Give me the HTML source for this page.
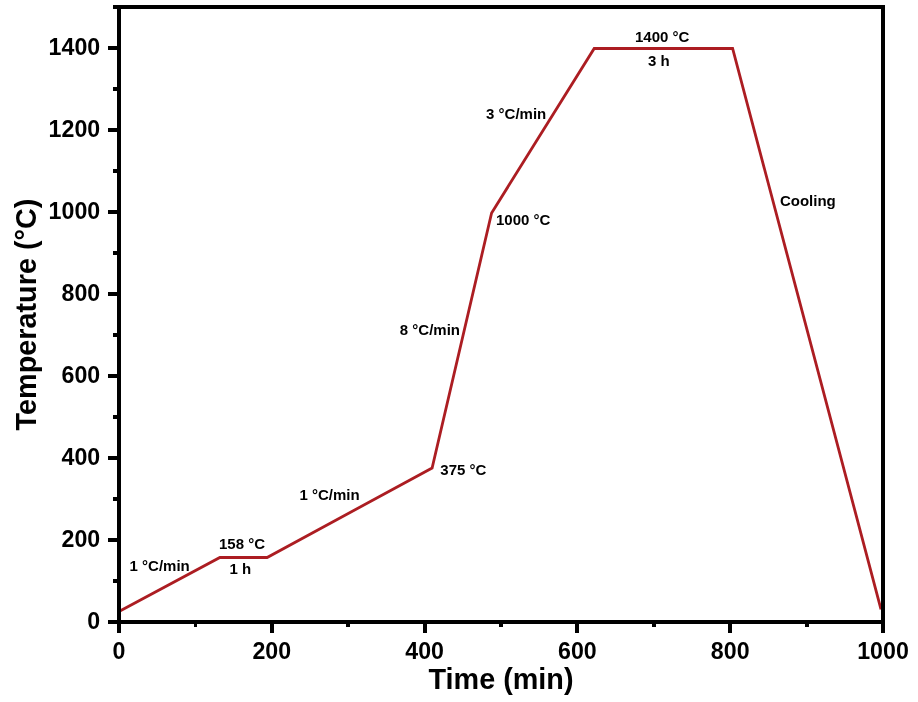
<!DOCTYPE html>
<html><head><meta charset="utf-8"><style>
html,body{margin:0;padding:0;background:#fff;width:918px;height:702px;overflow:hidden}
svg{display:block}
text{-webkit-font-smoothing:antialiased}
.t{filter:saturate(0)}
</style></head><body>
<svg width="918" height="702" viewBox="0 0 918 702">
<rect width="918" height="702" fill="#fff"/>
<polyline points="119.00,611.50 219.90,557.50 267.10,557.50 432.10,468.00 491.60,213.00 594.20,48.50 732.60,48.50 881.00,609.30" fill="none" stroke="#ac1d22" stroke-width="2.8" stroke-linejoin="miter" stroke-miterlimit="10"/>
<g fill="#ac1d22" shape-rendering="crispEdges"><rect x="220" y="556" width="47" height="3"/><rect x="594" y="47" width="139" height="3"/></g>
<g fill="#000" shape-rendering="crispEdges"><rect x="113" y="5" width="772" height="4"/><rect x="117" y="5" width="4" height="628"/><rect x="881" y="5" width="4" height="628"/><rect x="108" y="620" width="777" height="4"/><rect x="108" y="620" width="9" height="4"/><rect x="113" y="579" width="4" height="4"/><rect x="108" y="538" width="9" height="4"/><rect x="113" y="497" width="4" height="4"/><rect x="108" y="456" width="9" height="4"/><rect x="113" y="415" width="4" height="4"/><rect x="108" y="374" width="9" height="4"/><rect x="113" y="333" width="4" height="4"/><rect x="108" y="292" width="9" height="4"/><rect x="113" y="251" width="4" height="4"/><rect x="108" y="210" width="9" height="4"/><rect x="113" y="169" width="4" height="4"/><rect x="108" y="128" width="9" height="4"/><rect x="113" y="87" width="4" height="4"/><rect x="108" y="46" width="9" height="4"/><rect x="117" y="624" width="4" height="9"/><rect x="194" y="624" width="3" height="3"/><rect x="270" y="624" width="4" height="9"/><rect x="346" y="624" width="4" height="3"/><rect x="423" y="624" width="4" height="9"/><rect x="499" y="624" width="4" height="3"/><rect x="575" y="624" width="4" height="9"/><rect x="652" y="624" width="4" height="3"/><rect x="728" y="624" width="4" height="9"/><rect x="805" y="624" width="4" height="3"/><rect x="881" y="624" width="4" height="9"/></g>
<g class="t" font-family='"Liberation Sans", sans-serif' font-weight="bold" font-size="23.2" fill="#000"><text x="100.2" y="629.0" text-anchor="end">0</text><text x="100.2" y="547.0" text-anchor="end">200</text><text x="100.2" y="465.0" text-anchor="end">400</text><text x="100.2" y="383.0" text-anchor="end">600</text><text x="100.2" y="301.0" text-anchor="end">800</text><text x="100.2" y="219.0" text-anchor="end">1000</text><text x="100.2" y="137.0" text-anchor="end">1200</text><text x="100.2" y="55.0" text-anchor="end">1400</text><text x="119.0" y="658.8" text-anchor="middle">0</text><text x="271.8" y="658.8" text-anchor="middle">200</text><text x="424.6" y="658.8" text-anchor="middle">400</text><text x="577.4" y="658.8" text-anchor="middle">600</text><text x="730.2" y="658.8" text-anchor="middle">800</text><text x="883.0" y="658.8" text-anchor="middle">1000</text></g>
<text class="t" x="501" y="689.3" text-anchor="middle" font-family='"Liberation Sans", sans-serif' font-weight="bold" font-size="28.8">Time (min)</text>
<text class="t" transform="translate(35.9,314.5) rotate(-90)" text-anchor="middle" font-family='"Liberation Sans", sans-serif' font-weight="bold" font-size="28.8">Temperature (°C)</text>
<g class="t" font-family='"Liberation Sans", sans-serif' font-weight="bold" font-size="15.0" fill="#000"><text x="129.6" y="570.6">1 °C/min</text><text x="219.0" y="548.7">158 °C</text><text x="229.6" y="574.4">1 h</text><text x="299.40000000000003" y="499.6">1 °C/min</text><text x="440.3" y="474.6">375 °C</text><text x="399.8" y="334.5">8 °C/min</text><text x="496.0" y="224.9">1000 °C</text><text x="486.05" y="119.2">3 °C/min</text><text x="635.0" y="41.8">1400 °C</text><text x="648.0" y="65.8">3 h</text><text x="779.9000000000001" y="205.6">Cooling</text></g>
</svg>
</body></html>
